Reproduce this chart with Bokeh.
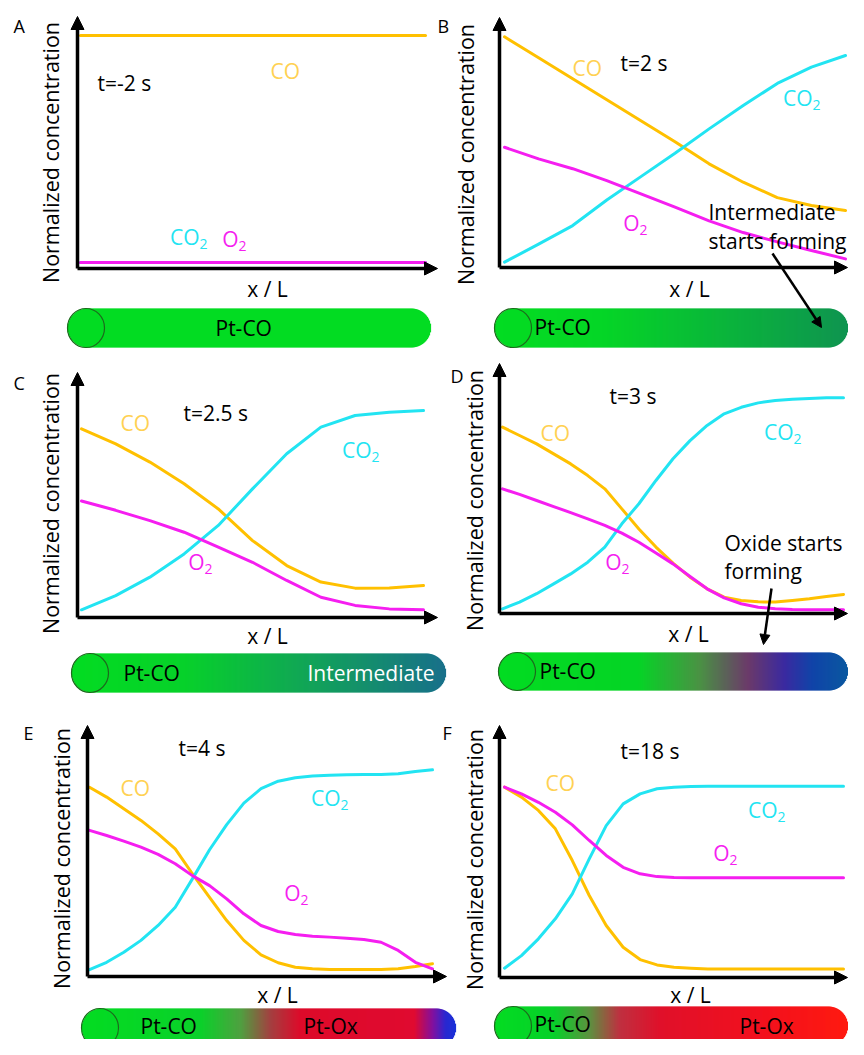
import numpy as np
from bokeh.plotting import figure
from bokeh.models import Range1d, Arrow, NormalHead
from bokeh.embed import file_html
from bokeh.resources import INLINE
from bokeh.core.properties import value

# ---------------- data (x / L, normalized concentration) ----------------
x_A = [0.0, 1.0]
co_A = [1.0, 1.0]
co2_A = [0.026, 0.026]
o2_A = [0.026, 0.026]

x_11 = [0.0, 0.1, 0.2, 0.3, 0.4, 0.5, 0.6, 0.7, 0.8, 0.9, 1.0]
co_B = [0.99, 0.90, 0.81, 0.72, 0.63, 0.54, 0.445, 0.366, 0.30, 0.266, 0.245]
co2_B = [0.023, 0.10, 0.18, 0.29, 0.39, 0.49, 0.595, 0.695, 0.79, 0.86, 0.91]
o2_B = [0.516, 0.466, 0.424, 0.373, 0.316, 0.259, 0.20, 0.15, 0.11, 0.073, 0.037]

co_C = [0.81, 0.745, 0.667, 0.574, 0.466, 0.33, 0.223, 0.152, 0.126, 0.127, 0.137]
co2_C = [0.033, 0.094, 0.173, 0.273, 0.395, 0.552, 0.703, 0.817, 0.867, 0.881, 0.888]
o2_C = [0.50, 0.46, 0.416, 0.366, 0.302, 0.237, 0.159, 0.087, 0.052, 0.037, 0.033]

x_21 = [0.0, 0.05, 0.1, 0.15, 0.2, 0.25, 0.3, 0.35, 0.4, 0.45, 0.5,
        0.55, 0.6, 0.65, 0.7, 0.75, 0.8, 0.85, 0.9, 0.95, 1.0]
co_D = [0.80, 0.764, 0.728, 0.685, 0.642, 0.592, 0.535, 0.449, 0.363, 0.285, 0.216,
        0.156, 0.106, 0.07, 0.056, 0.05, 0.049, 0.056, 0.063, 0.073, 0.082]
co2_D = [0.02, 0.049, 0.085, 0.127, 0.17, 0.22, 0.285, 0.385, 0.471, 0.571, 0.664,
         0.742, 0.807, 0.857, 0.885, 0.904, 0.914, 0.92, 0.923, 0.926, 0.926]
o2_D = [0.535, 0.511, 0.485, 0.459, 0.433, 0.406, 0.378, 0.345, 0.306, 0.26, 0.213,
        0.159, 0.106, 0.067, 0.042, 0.027, 0.02, 0.017, 0.016, 0.016, 0.016]

co_E = [0.812, 0.77, 0.72, 0.67, 0.612, 0.548, 0.441, 0.34, 0.24, 0.155, 0.093,
        0.059, 0.04, 0.033, 0.03, 0.03, 0.03, 0.03, 0.033, 0.043, 0.055]
co2_E = [0.029, 0.061, 0.104, 0.155, 0.219, 0.297, 0.419, 0.544, 0.652, 0.744, 0.806,
         0.838, 0.853, 0.861, 0.864, 0.866, 0.867, 0.867, 0.87, 0.88, 0.887]
o2_E = [0.627, 0.605, 0.581, 0.555, 0.524, 0.484, 0.433, 0.39, 0.333, 0.269, 0.219,
        0.193, 0.18, 0.173, 0.169, 0.164, 0.159, 0.147, 0.112, 0.061, 0.033]

co_F = [0.817, 0.774, 0.717, 0.638, 0.502, 0.352, 0.223, 0.13, 0.077, 0.054, 0.044,
        0.04, 0.037, 0.037, 0.037, 0.037, 0.037, 0.037, 0.037, 0.037, 0.037]
co2_F = [0.04, 0.094, 0.166, 0.252, 0.359, 0.509, 0.652, 0.745, 0.788, 0.81, 0.817,
         0.82, 0.821, 0.821, 0.821, 0.821, 0.821, 0.821, 0.821, 0.821, 0.821]
o2_F = [0.817, 0.788, 0.752, 0.709, 0.655, 0.588, 0.524, 0.473, 0.445, 0.433, 0.429,
        0.428, 0.428, 0.428, 0.428, 0.428, 0.428, 0.428, 0.428, 0.428, 0.428]

panel_names = ["A", "B", "C", "D", "E", "F"]
time_labels = ["t=-2 s", "t=2 s", "t=2.5 s", "t=3 s", "t=4 s", "t=18 s"]
y_label = "Normalized concentration"
x_label = "x / L"
series = {
    "A": (x_A, co_A, co2_A, o2_A),
    "B": (x_11, co_B, co2_B, o2_B),
    "C": (x_11, co_C, co2_C, o2_C),
    "D": (x_21, co_D, co2_D, o2_D),
    "E": (x_21, co_E, co2_E, o2_E),
    "F": (x_21, co_F, co2_F, o2_F),
}
bar_texts = {
    "A": [("Pt-CO", "black")],
    "B": [("Pt-CO", "black")],
    "C": [("Pt-CO", "black"), ("Intermediate", "white")],
    "D": [("Pt-CO", "black")],
    "E": [("Pt-CO", "black"), ("Pt-Ox", "black")],
    "F": [("Pt-CO", "black"), ("Pt-Ox", "black")],
}
notes = {"B": ["Intermediate", "starts forming"], "D": ["Oxide starts", "forming"]}

# ---------------- layout / style ----------------
FONT = "Open Sans"
FS = 21
C_CO, C_CO2, C_O2 = "#ffc000", "#22e4f2", "#f51ef0"
T_CO, T_CO2, T_O2 = "#ffd152", "#22e4f2", "#f51ef0"
S = 233.0  # px per unit concentration
PX0, PX1, PY0, PY1 = 0, 848, 0, 1039

# axis_x, axis_y, curve_x0, curve_x1, ytip, xtip
GEOM = {
    "A": (77, 268, 80, 425, 16, 437),
    "B": (499, 267, 504, 845, 17, 847),
    "C": (77, 617, 81, 423, 372, 437),
    "D": (499, 613, 502, 843, 363, 847),
    "E": (87, 976, 89, 432, 725, 446),
    "F": (499, 977, 504, 843, 725, 847),
}
# letter, ylabel center, time pos, CO pos, CO2 pos, O2 pos, xlabel center
TPOS = {
    "A": dict(let=(13, 25), yl=(50, 152), t=(97, 82), co=(270, 70), co2=(171, 236), o2=(221, 238), xl=(267, 288)),
    "B": dict(let=(437, 25), yl=(465, 154), t=(620, 62), co=(572, 67), co2=(784, 97), o2=(622, 222), xl=(689, 288)),
    "C": dict(let=(13, 382), yl=(50, 503), t=(183, 412), co=(120, 422), co2=(343, 449), o2=(187, 561), xl=(267, 635)),
    "D": dict(let=(450, 375), yl=(474, 500), t=(609, 395), co=(540, 432), co2=(765, 431), o2=(604, 561), xl=(688, 633)),
    "E": dict(let=(23, 732), yl=(61, 858), t=(178, 747), co=(120, 787), co2=(312, 797), o2=(283, 892), xl=(277, 994)),
    "F": dict(let=(442, 732), yl=(474, 859), t=(620, 750), co=(545, 782), co2=(749, 809), o2=(712, 852), xl=(690, 994)),
}
NOTE_POS = {"B": (708, 211, 240), "D": (724, 542, 570)}
POINTERS = {"B": (772, 253, 821, 327), "D": (771, 588, 763, 644)}

BARS = {
    "A": (67, 430, 308, 347, [(0, "#03dc22"), (1, "#03dc22")]),
    "B": (494, 847, 308, 347, [(0, "#03dc22"), (0.3, "#05d626"), (1, "#0f9450")]),
    "C": (71, 445, 653, 692, [(0, "#03dc22"), (0.3, "#07d12a"), (0.65, "#12a25a"), (1, "#18708a")]),
    "D": (498, 847, 652, 690, [(0, "#03dc22"), (0.4, "#05d426"), (0.575, "#4a9244"), (0.715, "#6b3a6a"),
                               (0.82, "#3a2aa0"), (0.9, "#1044a8"), (1, "#0a58a0")]),
    "E": (81, 455, 1008, 1047, [(0, "#03dc22"), (0.32, "#0bd02a"), (0.425, "#4fa040"), (0.505, "#a34040"),
                                (0.585, "#dd0a2a"), (0.89, "#e00a30"), (0.94, "#8010a0"), (0.973, "#2a28d0"),
                                (1, "#1830d8")]),
    "F": (494, 847, 1006, 1045, [(0, "#03dc22"), (0.17, "#08d02a"), (0.27, "#5e9040"), (0.355, "#bf3040"),
                                 (0.47, "#e0102a"), (0.75, "#f2101e"), (1, "#ff1a10")]),
}
BAR_TEXT_POS = {
    "A": [(215, 327)], "B": [(534, 326)], "C": [(123, 672), (307, 672)],
    "D": [(539, 670)], "E": [(140, 1025), (303, 1025)], "F": [(534, 1023), (739, 1025)],
}

p = figure(width=PX1 - PX0, height=PY1 - PY0, x_range=Range1d(PX0, PX1), y_range=Range1d(PY1, PY0),
           x_axis_type=None, y_axis_type=None, toolbar_location=None, output_backend="svg",
           min_border=0, outline_line_color=None, background_fill_color="white",
           border_fill_color="white")


def txt(x, y, s, color="black", size=FS, align="left", angle=0.0):
    p.text(x=[x], y=[y], text=[s], text_color=color, text_font=value(FONT),
           text_font_size=value(f"{size}px"), text_align=align, text_baseline="middle", angle=angle)


def sub_label(pos, base, color):
    w = {"CO": 28, "O": 17}[base]
    x, y = pos
    txt(x + w, y, base, color, FS, "right")
    txt(x + w, y + 7, "2", color, 14, "left")


def hex2rgb(h):
    return np.array([int(h[i:i + 2], 16) for i in (1, 3, 5)], dtype=float)


def grad(stops, t):
    for (t0, c0), (t1, c1) in zip(stops[:-1], stops[1:]):
        if t <= t1:
            f = 0 if t1 == t0 else (t - t0) / (t1 - t0)
            c = hex2rgb(c0) * (1 - f) + hex2rgb(c1) * f
            return "#%02x%02x%02x" % tuple(int(round(v)) for v in c)
    return stops[-1][1]


def capsule(x0, x1, top, bot, stops):
    r = (bot - top) / 2.0
    yc = (top + bot) / 2.0
    xs = np.arange(x0, x1, 1.0)
    cx = xs + 0.5
    half = np.full_like(cx, r)
    lm = cx < x0 + r
    half[lm] = np.sqrt(np.maximum(r ** 2 - (x0 + r - cx[lm]) ** 2, 0))
    rm = cx > x1 - r
    half[rm] = np.sqrt(np.maximum(r ** 2 - (cx[rm] - (x1 - r)) ** 2, 0))
    cols = [grad(stops, (c - x0) / (x1 - x0)) for c in cx]
    p.quad(left=xs, right=xs + 1.6, top=yc - half, bottom=yc + half, fill_color=cols, line_color=None)
    p.ellipse(x=[x0 + 18.5], y=[yc], width=37, height=bot - top, fill_color=None,
              line_color="#1d6a1d", line_width=1.2)


for k, name, tlabel in zip(panel_names, panel_names, time_labels):
    ax, ay, cx0, cx1, ytip, xtip = GEOM[k]
    W = float(cx1 - cx0)
    xr, yr = k + "x", k + "y"
    p.extra_x_ranges[xr] = Range1d((PX0 - cx0) / W, (PX1 - cx0) / W)
    p.extra_y_ranges[yr] = Range1d((ay - PY1) / S, (ay - PY0) / S)
    xs, co, co2, o2 = series[k]
    for ys, c in ((co, C_CO), (co2, C_CO2), (o2, C_O2)):
        p.line(xs, ys, x_range_name=xr, y_range_name=yr, line_color=c, line_width=3,
               line_join="round", line_cap="round")
    axx = (ax - cx0) / W
    p.add_layout(Arrow(x_start=axx, y_start=0, x_end=axx, y_end=(ay - ytip) / S,
                       x_range_name=xr, y_range_name=yr, line_width=3.5, line_color="black",
                       end=NormalHead(size=13, fill_color="black", line_color="black", line_width=1)))
    p.add_layout(Arrow(x_start=axx, y_start=0, x_end=(xtip - cx0) / W, y_end=0,
                       x_range_name=xr, y_range_name=yr, line_width=3.5, line_color="black",
                       end=NormalHead(size=13, fill_color="black", line_color="black", line_width=1)))
    tp = TPOS[k]
    txt(*tp["let"], name, "black", 18)
    txt(*tp["yl"], y_label, "black", 21.5, "center", np.pi / 2)
    txt(*tp["t"], tlabel, "black")
    txt(*tp["co"], "CO", T_CO)
    sub_label(tp["co2"], "CO", T_CO2)
    sub_label(tp["o2"], "O", T_O2)
    txt(*tp["xl"], x_label, "black", FS, "center")
    bx0, bx1, bt, bb, stops = BARS[k]
    capsule(bx0, bx1, bt, bb, stops)
    for (s, col), (tx, ty) in zip(bar_texts[k], BAR_TEXT_POS[k]):
        txt(tx, ty, s, col)
    if k in notes:
        nx, ny1, ny2 = NOTE_POS[k]
        txt(nx, ny1, notes[k][0], "black")
        txt(nx, ny2, notes[k][1], "black")
        a = POINTERS[k]
        p.add_layout(Arrow(x_start=a[0], y_start=a[1], x_end=a[2], y_end=a[3], line_width=2.5,
                           line_color="black",
                           end=NormalHead(size=10, fill_color="black", line_color="black", line_width=1)))

open("out.html", "w").write(file_html(p, INLINE))
